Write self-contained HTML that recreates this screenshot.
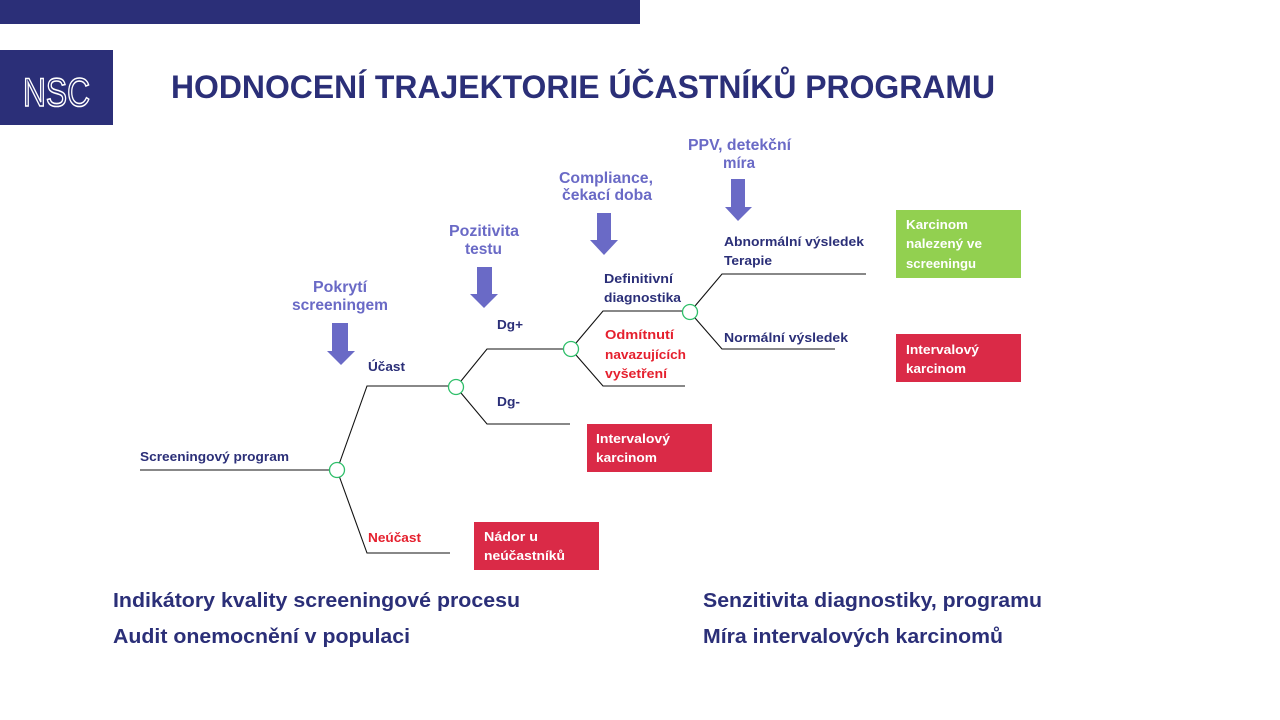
<!DOCTYPE html>
<html><head><meta charset="utf-8"><style>
html,body{margin:0;padding:0;background:#fff;}
svg{display:block;}
.n{font-family:"Liberation Sans",sans-serif;font-weight:bold;font-size:13px;fill:#2b2f78;}
.r{font-family:"Liberation Sans",sans-serif;font-weight:bold;font-size:13px;fill:#e5202e;}
.w{font-family:"Liberation Sans",sans-serif;font-weight:bold;font-size:13px;fill:#fff;}
.p{font-family:"Liberation Sans",sans-serif;font-weight:bold;font-size:16px;fill:#6a6ac6;}
.b{font-family:"Liberation Sans",sans-serif;font-weight:bold;font-size:20px;fill:#2b2f78;}
</style></head><body>
<svg width="1280" height="720" viewBox="0 0 1280 720" xmlns="http://www.w3.org/2000/svg">
<rect x="0" y="0" width="640" height="24" fill="#2b2f78"/>
<rect x="0" y="50" width="113" height="75" fill="#2b2f78"/>
<text x="23" y="106" font-family="Liberation Sans, sans-serif" font-size="40" fill="#2b2f78" stroke="#fff" stroke-width="1.6" textLength="67" lengthAdjust="spacingAndGlyphs">NSC</text>
<text x="171" y="98" font-family="Liberation Sans, sans-serif" font-weight="bold" font-size="32" fill="#2b2f78" textLength="824" lengthAdjust="spacingAndGlyphs">HODNOCENÍ TRAJEKTORIE ÚČASTNÍKŮ PROGRAMU</text>

<!-- tree lines -->
<g stroke="#111" stroke-width="1.1" fill="none">
<line x1="140" y1="470" x2="329.5" y2="470"/>
<polyline points="339.5,463 367,386 448.5,386"/>
<polyline points="339.5,477 367,553 450,553"/>
<polyline points="461,381 487,349 563.5,349"/>
<polyline points="461,393 487,424 570,424"/>
<polyline points="576,343 603,311 682.5,311"/>
<polyline points="576,355 603,386 685,386"/>
<polyline points="695,306 722,274 866,274"/>
<polyline points="695,318 722,349 835,349"/>
</g>
<g stroke="#2fbf6a" stroke-width="1.3" fill="#fff">
<circle cx="337" cy="470" r="7.5"/>
<circle cx="456" cy="387" r="7.5"/>
<circle cx="571" cy="349" r="7.5"/>
<circle cx="690" cy="312" r="7.5"/>
</g>

<!-- node labels -->
<text class="n" x="140" y="461" textLength="149" lengthAdjust="spacingAndGlyphs">Screeningový program</text>
<text class="n" x="368" y="371" textLength="37" lengthAdjust="spacingAndGlyphs">Účast</text>
<text class="r" x="368" y="542" textLength="53" lengthAdjust="spacingAndGlyphs">Neúčast</text>
<text class="n" x="497" y="329" textLength="26" lengthAdjust="spacingAndGlyphs">Dg+</text>
<text class="n" x="497" y="406" textLength="23" lengthAdjust="spacingAndGlyphs">Dg-</text>
<text class="n" x="604" y="283" textLength="69" lengthAdjust="spacingAndGlyphs">Definitivní</text>
<text class="n" x="604" y="302" textLength="77" lengthAdjust="spacingAndGlyphs">diagnostika</text>
<text class="r" x="605" y="339" textLength="69" lengthAdjust="spacingAndGlyphs">Odmítnutí</text>
<text class="r" x="605" y="359" textLength="81" lengthAdjust="spacingAndGlyphs">navazujících</text>
<text class="r" x="605" y="378" textLength="62" lengthAdjust="spacingAndGlyphs">vyšetření</text>
<text class="n" x="724" y="246" textLength="140" lengthAdjust="spacingAndGlyphs">Abnormální výsledek</text>
<text class="n" x="724" y="265" textLength="48" lengthAdjust="spacingAndGlyphs">Terapie</text>
<text class="n" x="724" y="342" textLength="124" lengthAdjust="spacingAndGlyphs">Normální výsledek</text>

<!-- boxes -->
<rect x="896" y="210" width="125" height="68" fill="#92d050"/>
<text class="w" x="906" y="229" textLength="62" lengthAdjust="spacingAndGlyphs">Karcinom</text>
<text class="w" x="906" y="248" textLength="76" lengthAdjust="spacingAndGlyphs">nalezený ve</text>
<text class="w" x="906" y="268" textLength="70" lengthAdjust="spacingAndGlyphs">screeningu</text>

<rect x="896" y="334" width="125" height="48" fill="#da2a47"/>
<text class="w" x="906" y="354" textLength="73" lengthAdjust="spacingAndGlyphs">Intervalový</text>
<text class="w" x="906" y="373" textLength="60" lengthAdjust="spacingAndGlyphs">karcinom</text>

<rect x="587" y="424" width="125" height="48" fill="#da2a47"/>
<text class="w" x="596" y="443" textLength="74" lengthAdjust="spacingAndGlyphs">Intervalový</text>
<text class="w" x="596" y="462" textLength="61" lengthAdjust="spacingAndGlyphs">karcinom</text>

<rect x="474" y="522" width="125" height="48" fill="#da2a47"/>
<text class="w" x="484" y="541" textLength="54" lengthAdjust="spacingAndGlyphs">Nádor u</text>
<text class="w" x="484" y="560" textLength="81" lengthAdjust="spacingAndGlyphs">neúčastníků</text>

<!-- indicator labels + arrows -->
<text class="p" x="313" y="292" textLength="54" lengthAdjust="spacingAndGlyphs">Pokrytí</text>
<text class="p" x="292" y="310" textLength="96" lengthAdjust="spacingAndGlyphs">screeningem</text>
<polygon points="332,323 348,323 348,351 355,351 341,365 327,351 332,351" fill="#6a6ac6"/>

<text class="p" x="449" y="236" textLength="70" lengthAdjust="spacingAndGlyphs">Pozitivita</text>
<text class="p" x="465" y="254" textLength="37" lengthAdjust="spacingAndGlyphs">testu</text>
<polygon points="477,267 492,267 492,294 498,294 484,308 470,294 477,294" fill="#6a6ac6"/>

<text class="p" x="559" y="183" textLength="94" lengthAdjust="spacingAndGlyphs">Compliance,</text>
<text class="p" x="562" y="200" textLength="90" lengthAdjust="spacingAndGlyphs">čekací doba</text>
<polygon points="597,213 611,213 611,240 618,240 604,255 590,240 597,240" fill="#6a6ac6"/>

<text class="p" x="688" y="150" textLength="103" lengthAdjust="spacingAndGlyphs">PPV, detekční</text>
<text class="p" x="723" y="168" textLength="32" lengthAdjust="spacingAndGlyphs">míra</text>
<polygon points="731,179 745,179 745,207 752,207 738,221 725,207 731,207" fill="#6a6ac6"/>

<!-- bottom text -->
<text class="b" x="113" y="607" textLength="407" lengthAdjust="spacingAndGlyphs">Indikátory kvality screeningové procesu</text>
<text class="b" x="113" y="643" textLength="297" lengthAdjust="spacingAndGlyphs">Audit onemocnění v populaci</text>
<text class="b" x="703" y="607" textLength="339" lengthAdjust="spacingAndGlyphs">Senzitivita diagnostiky, programu</text>
<text class="b" x="703" y="643" textLength="300" lengthAdjust="spacingAndGlyphs">Míra intervalových karcinomů</text>
</svg>
</body></html>
